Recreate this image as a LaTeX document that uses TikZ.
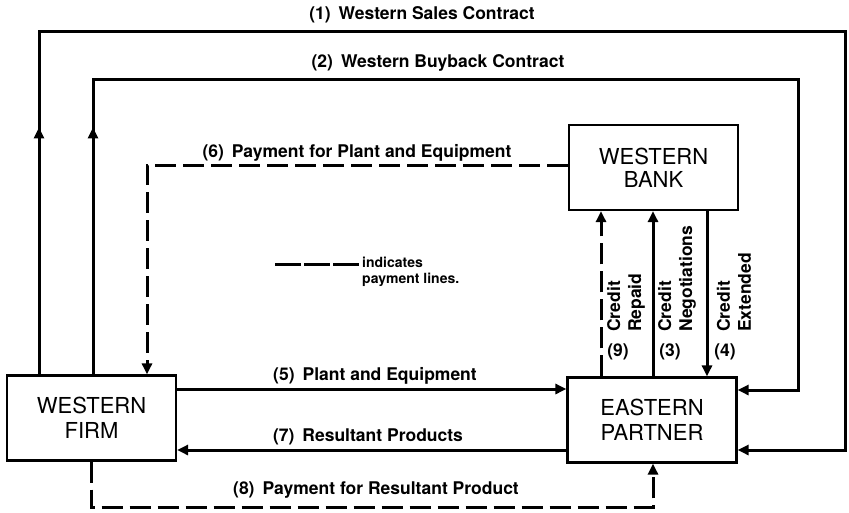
\documentclass[tikz,border=0pt]{standalone}
\usepackage{fontspec}
\setmainfont{TeX Gyre Heros}
\usetikzlibrary{arrows.meta, positioning, decorations.markings}

\begin{document}
\begin{tikzpicture}[x=1pt, y=-1pt,
    party/.style={draw, line width=2.2pt, minimum width=169pt, minimum height=85pt,
                  font=\fontsize{22}{25}\selectfont, align=center},
    flow/.style={line width=3pt},
    pay/.style={flow, dash pattern=on 21pt off 7pt},
    tip/.style={-{Triangle[length=11pt, width=10pt]}},
    lbl/.style={font=\fontsize{17.5}{21}\selectfont\bfseries, inner sep=1pt},
    credit/.style={lbl, rotate=90, anchor=west, align=left},
    legend/.style={font=\fontsize{14}{16}\selectfont\bfseries, align=left, inner sep=1pt},
    uparrow/.style={postaction={decorate}, decoration={markings,
        mark=at position #1 with {\arrow{Triangle[length=11pt, width=10pt]}}}}
]
    \useasboundingbox (0,0) rectangle (849,512);

    % the three parties
    \node[party] (firm) at (91.5,418) {WESTERN\\FIRM};
    \node[party] (partner) at (652,420) {EASTERN\\PARTNER};
    \node[party, font=\fontsize{22}{23}\selectfont] (bank) at (653.5,167.5) {WESTERN\\BANK};

    % turning points of the long lines
    \coordinate (top1) at (39,31);
    \coordinate (right1) at (845,450);
    \coordinate (top2) at (93,79);
    \coordinate (right2) at (798,390);
    \coordinate (turn6) at (147,165);
    \coordinate (turn8) at (91,507);
    \coordinate (row5) at (0,389);
    \coordinate (row7) at (0,450);
    \coordinate (col9) at (601,0);
    \coordinate (col3) at (653,0);
    \coordinate (col4) at (707,0);

    % contracts
    \draw[flow, tip, uparrow=247pt] (firm.north -| top1) -- (top1) -| (right1) -- (partner.east |- right1);
    \draw[flow, tip, uparrow=247pt] (firm.north -| top2) -- (top2) -| (right2) -- (partner.east |- right2);
    \node[lbl] (lbl1) at (422,15) {(1)\hspace{8pt}Western Sales Contract};
    \node[lbl] (lbl2) at (438,63) {(2)\hspace{8pt}Western Buyback Contract};

    % goods
    \draw[flow, tip] (firm.east |- row5) -- (partner.west |- row5);
    \draw[flow, tip] (partner.west |- row7) -- (firm.east |- row7);
    \node[lbl] (lbl5) at (375,376) {(5)\hspace{8pt}Plant and Equipment};
    \node[lbl] (lbl7) at (368,437) {(7)\hspace{8pt}Resultant Products};

    % payments
    \draw[pay, tip] (bank.west |- turn6) -- (turn6) -- (firm.north -| turn6);
    \draw[pay, tip] (firm.south -| turn8) -- (turn8) -| (partner.south -| col3);
    \node[lbl] (lbl6) at (357,153) {(6)\hspace{8pt}Payment for Plant and Equipment};
    \node[lbl] (lbl8) at (376,490) {(8)\hspace{8pt}Payment for Resultant Product};

    % credit lines
    \draw[pay, tip] (partner.north -| col9) -- (bank.south -| col9);
    \draw[flow, tip] (partner.north -| col3) -- (bank.south -| col3);
    \draw[flow, tip] (bank.south -| col4) -- (partner.north -| col4);
    \node[credit] (cred9) at (626,333) {Credit\\Repaid};
    \node[credit] (cred3) at (677,333) {Credit\\Negotiations};
    \node[credit] (cred4) at (734,333) {Credit\\Extended};
    \node[lbl] (num9) at (618,352) {(9)};
    \node[lbl] (num3) at (670,352) {(3)};
    \node[lbl] (num4) at (725,352) {(4)};

    % key
    \node[legend, anchor=west] (key) at (361,272) {indicates\\payment lines.};
    \coordinate (keystart) at (275,264);
    \draw[pay, dash pattern=on 26pt off 3pt] (keystart) -- (keystart -| key.west);
\end{tikzpicture}
\end{document}
